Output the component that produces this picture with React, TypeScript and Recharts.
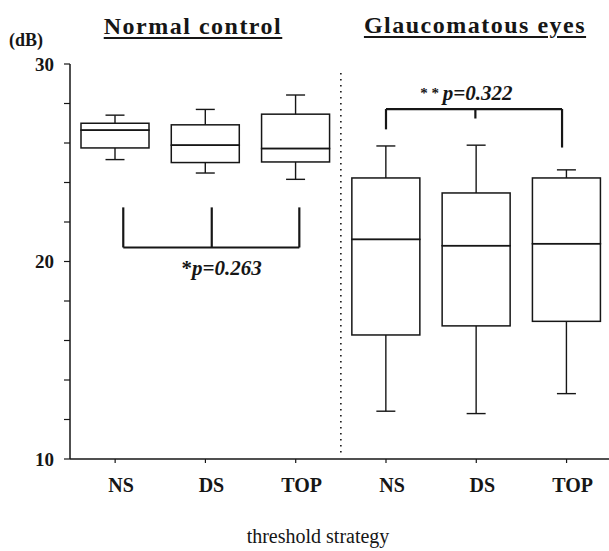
import React from 'react';
import {
  ComposedChart, Bar, XAxis, YAxis, ReferenceLine, ReferenceDot,
} from 'recharts';

// positions on the x axis, one per box
const positions = [0, 1, 2, 3, 4, 5];
const categories = ['NS', 'DS', 'TOP', 'NS', 'DS', 'TOP'];
const yTicks = [10, 12, 14, 16, 18, 20, 22, 24, 26, 28, 30];

// box plot values (dB)
const whiskerLow = [25.16, 24.48, 24.16, 12.42, 12.3, 13.31];
const q1 = [25.75, 25.01, 25.04, 16.28, 16.74, 16.97];
const median = [26.65, 25.89, 25.72, 21.12, 20.8, 20.9];
const q3 = [27.0, 26.92, 27.46, 24.23, 23.47, 24.23];
const whiskerHigh = [27.41, 27.7, 28.43, 25.85, 25.89, 24.64];

// significance brackets
const normalBracketX = [0.09, 1.07, 2.04];
const normalBracketTop = 22.74;
const normalBracketBase = 20.71;
const glaucBracketX = [3.0, 3.99, 4.95];
const glaucBracketEnds = [26.69, 27.24, 25.77];
const glaucBracketBar = 27.72;

const INK = '#161616';
const SERIF = '"Liberation Serif", "DejaVu Serif", serif';

const data = positions.map((p, i) => ({
  pos: p,
  base: whiskerLow[i],
  lowW: q1[i] - whiskerLow[i],
  lowBox: median[i] - q1[i],
  upBox: q3[i] - median[i],
  upW: whiskerHigh[i] - q3[i],
}));

const CAP = 9.5;

const Empty = () => <g />;

// eslint-disable-next-line @typescript-eslint/no-explicit-any
const LowWhisker = (props: any) => {
  const { x, y, width, height } = props;
  const cx = x + width / 2;
  return (
    <g stroke={INK} strokeWidth={1.4}>
      <line x1={cx} x2={cx} y1={y} y2={y + height} />
      <line x1={cx - CAP} x2={cx + CAP} y1={y + height} y2={y + height} />
    </g>
  );
};

// eslint-disable-next-line @typescript-eslint/no-explicit-any
const HighWhisker = (props: any) => {
  const { x, y, width, height } = props;
  const cx = x + width / 2;
  return (
    <g stroke={INK} strokeWidth={1.4}>
      <line x1={cx} x2={cx} y1={y} y2={y + height} />
      <line x1={cx - CAP} x2={cx + CAP} y1={y} y2={y} />
    </g>
  );
};

// eslint-disable-next-line @typescript-eslint/no-explicit-any
const BoxPart = (props: any) => {
  const { x, y, width, height } = props;
  return <rect x={x} y={y} width={width} height={height} fill="none" stroke={INK} strokeWidth={1.5} />;
};

// eslint-disable-next-line @typescript-eslint/no-explicit-any
const XTick = (props: any) => {
  const { x, y, payload } = props;
  return (
    <text x={x + 6} y={y} dy="0.71em" textAnchor="middle" fill={INK}
      fontFamily={SERIF} fontWeight="bold" fontSize={20}>
      {categories[payload.value]}
    </text>
  );
};

// eslint-disable-next-line @typescript-eslint/no-explicit-any
const NormalP = (props: any) => {
  const { viewBox } = props;
  return (
    <text x={viewBox.x} y={viewBox.y} textAnchor="middle" dominantBaseline="central"
      fill={INK} fontFamily={SERIF} fontWeight="bold" fontSize={21}>
      <tspan>*</tspan>
      <tspan fontStyle="italic">p=0.263</tspan>
    </text>
  );
};

// eslint-disable-next-line @typescript-eslint/no-explicit-any
const GlaucP = (props: any) => {
  const { viewBox } = props;
  return (
    <text x={viewBox.x} y={viewBox.y} textAnchor="middle" dominantBaseline="central"
      fill={INK} fontFamily={SERIF} fontWeight="bold" fontSize={21}>
      <tspan fontSize={15}>* * </tspan>
      <tspan fontStyle="italic">p=0.322</tspan>
    </text>
  );
};

const titleStyle: React.CSSProperties = {
  position: 'absolute',
  fontFamily: SERIF,
  fontWeight: 'bold',
  fontSize: 24,
  lineHeight: '24px',
  letterSpacing: 1.5,
  textDecoration: 'underline',
  textDecorationThickness: 2,
  textUnderlineOffset: 3,
  color: INK,
  whiteSpace: 'nowrap',
  transform: 'translateX(-50%)',
};

export default function App() {
  return (
    <div style={{ position: 'absolute', left: 0, top: 0, width: 609, height: 551, background: '#fff' }}>
      <div style={{ ...titleStyle, left: 193, top: 14 }}>Normal control</div>
      <div style={{ ...titleStyle, left: 475, top: 13 }}>Glaucomatous eyes</div>
      <div style={{
        position: 'absolute', left: 9, top: 31, fontFamily: SERIF, fontWeight: 'bold',
        fontSize: 18, lineHeight: '18px', color: INK,
      }}>
        (dB)
      </div>
      <div style={{
        position: 'absolute', left: 318, top: 526, transform: 'translateX(-50%)',
        fontFamily: SERIF, fontSize: 20, lineHeight: '20px', color: INK, whiteSpace: 'nowrap',
      }}>
        threshold strategy
      </div>

      <ComposedChart width={609} height={551} data={data}
        margin={{ top: 64, right: 0, bottom: 42, left: 10 }}>
        <XAxis
          dataKey="pos"
          type="number"
          domain={[-0.5, 5.47]}
          allowDataOverflow
          ticks={positions}
          interval={0}
          height={50}
          tickSize={4}
          tickMargin={15}
          tick={<XTick />}
          axisLine={{ stroke: INK, strokeWidth: 1.5 }}
          tickLine={{ stroke: INK, strokeWidth: 1.2 }}
        />
        <YAxis
          type="number"
          domain={[10, 30]}
          allowDataOverflow
          ticks={yTicks}
          interval={0}
          width={60}
          tickSize={6}
          tickMargin={10}
          tickFormatter={(v: number) => (v % 10 === 0 ? String(v) : '')}
          tick={{ fill: INK, fontFamily: SERIF, fontSize: 19, fontWeight: 'bold' }}
          axisLine={{ stroke: INK, strokeWidth: 1.5 }}
          tickLine={{ stroke: INK, strokeWidth: 1.2 }}
        />

        <ReferenceLine
          segment={[{ x: 2.5, y: 29.55 }, { x: 2.5, y: 10.2 }]}
          stroke={INK}
          strokeWidth={1.6}
          strokeDasharray="1.5 4.5"
          ifOverflow="visible"
        />

        <Bar dataKey="base" stackId="box" barSize={68} shape={<Empty />} isAnimationActive={false} />
        <Bar dataKey="lowW" stackId="box" barSize={68} shape={<LowWhisker />} isAnimationActive={false} />
        <Bar dataKey="lowBox" stackId="box" barSize={68} shape={<BoxPart />} isAnimationActive={false} />
        <Bar dataKey="upBox" stackId="box" barSize={68} shape={<BoxPart />} isAnimationActive={false} />
        <Bar dataKey="upW" stackId="box" barSize={68} shape={<HighWhisker />} isAnimationActive={false} />

        {/* normal control bracket (opens upward) */}
        {normalBracketX.map((bx) => (
          <ReferenceLine key={`n${bx}`}
            segment={[{ x: bx, y: normalBracketTop }, { x: bx, y: normalBracketBase }]}
            stroke={INK} strokeWidth={2.2} ifOverflow="visible" />
        ))}
        <ReferenceLine
          segment={[{ x: normalBracketX[0], y: normalBracketBase }, { x: normalBracketX[2], y: normalBracketBase }]}
          stroke={INK} strokeWidth={2.2} ifOverflow="visible" />

        {/* glaucoma bracket (opens downward) */}
        {glaucBracketX.map((bx, i) => (
          <ReferenceLine key={`g${bx}`}
            segment={[{ x: bx, y: glaucBracketBar }, { x: bx, y: glaucBracketEnds[i] }]}
            stroke={INK} strokeWidth={2.2} ifOverflow="visible" />
        ))}
        <ReferenceLine
          segment={[{ x: glaucBracketX[0], y: glaucBracketBar }, { x: glaucBracketX[2], y: glaucBracketBar }]}
          stroke={INK} strokeWidth={2.2} ifOverflow="visible" />

        <ReferenceDot x={1.18} y={19.67} r={0} ifOverflow="visible" label={<NormalP />} />
        <ReferenceDot x={3.89} y={28.53} r={0} ifOverflow="visible" label={<GlaucP />} />
      </ComposedChart>
    </div>
  );
}
